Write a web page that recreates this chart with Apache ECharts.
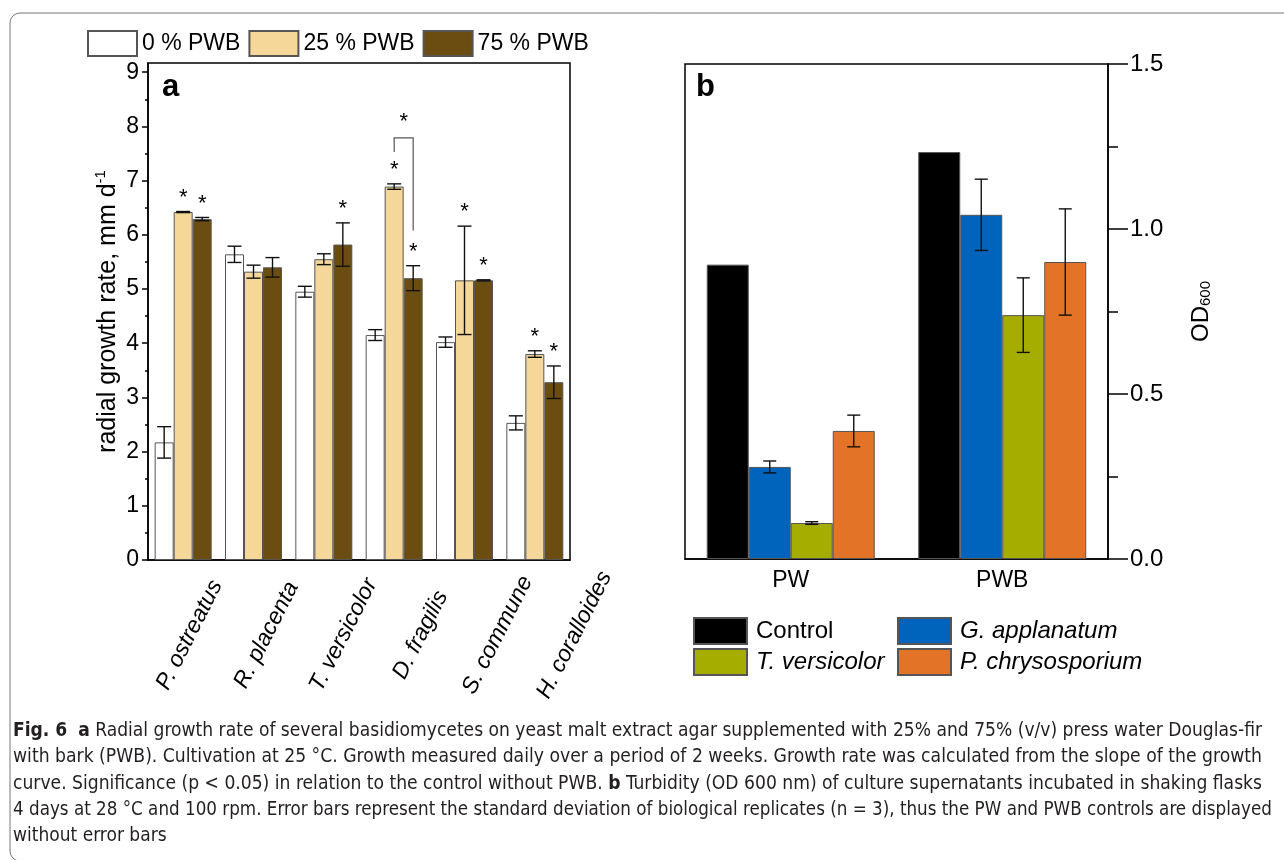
<!DOCTYPE html>
<html>
<head>
<meta charset="utf-8">
<script src="https://cdn.jsdelivr.net/npm/echarts@6/dist/echarts.min.js"></script>
<style>
html,body{margin:0;padding:0;background:#fff;}
#chart{width:1284px;height:860px;}
</style>
</head>
<body>
<div id="chart"></div>
<script>
// ---------- Panel a data ----------
const catsA = ['P. ostreatus', 'R. placenta', 'T. versicolor', 'D. fragilis', 'S. commune', 'H. coralloides'];
const seriesNamesA = ['0 % PWB', '25 % PWB', '75 % PWB'];
const meanA0  = [2.17, 5.64, 4.95, 4.15, 4.02, 2.53];
const sdA0    = [0.29, 0.15, 0.10, 0.10, 0.095, 0.13];
const meanA25 = [6.42, 5.32, 5.55, 6.89, 5.16, 3.80];
const sdA25   = [0.01, 0.12, 0.10, 0.05, 1.00, 0.06];
const meanA75 = [6.29, 5.40, 5.82, 5.20, 5.16, 3.28];
const sdA75   = [0.03, 0.18, 0.40, 0.23, 0.01, 0.30];
const sigA0   = [0, 0, 0, 0, 0, 0];
const sigA25  = [1, 0, 0, 1, 1, 1];
const sigA75  = [1, 0, 1, 1, 1, 1];
const yTicksA = [0, 1, 2, 3, 4, 5, 6, 7, 8, 9];
const yMinorA = [0.5, 1.5, 2.5, 3.5, 4.5, 5.5, 6.5, 7.5, 8.5];
// significance bracket (D. fragilis, 25 % vs 75 %): [category, left leg end, top, right leg end, star]
const bracketA = [3, 7.53, 7.79, 6.08, 8.17];

// ---------- Panel b data ----------
const catsB = ['PW', 'PWB'];
const seriesNamesB = ['Control', 'G. applanatum', 'T. versicolor', 'P. chrysosporium'];
const meanCtrl = [0.892, 1.233];
const meanGa   = [0.279, 1.043];
const sdGa     = [0.018, 0.108];
const meanTv   = [0.109, 0.739];
const sdTv     = [0.004, 0.113];
const meanPc   = [0.388, 0.900];
const sdPc     = [0.048, 0.161];

// ---------- Caption ----------
const captionLines = [
  [['Fig. 6', true], ['  ', false], ['a', true], [' Radial growth rate of several basidiomycetes on yeast malt extract agar supplemented with 25% and 75% (v/v) press water Douglas-fir', false]],
  [['with bark (PWB). Cultivation at 25 °C. Growth measured daily over a period of 2 weeks. Growth rate was calculated from the slope of the growth', false]],
  [['curve. Significance (p < 0.05) in relation to the control without PWB. ', false], ['b', true], [' Turbidity (OD 600 nm) of culture supernatants incubated in shaking flasks', false]],
  [['4 days at 28 °C and 100 rpm. Error bars represent the standard deviation of biological replicates (n = 3), thus the PW and PWB controls are displayed', false]],
  [['without error bars', false]]
];

const FONT = 'Liberation Sans, Arial, sans-serif';
const CAP_FONT = '"Liberation Sans Narrow", "DejaVu Sans Condensed", "Open Sans", sans-serif';
const BW_A = 19, BW_B = 42;
const colA = ['#ffffff', '#F4D799', '#6B4D12'];
const colB = ['#000000', '#0063BC', '#A5AD00', '#E37326'];

const chart = echarts.init(document.getElementById('chart'), null, {renderer: 'canvas'});

function errRender(offsetIdx, groupN, bw, capW) {
  return function (params, api) {
    const c = api.value(0), m = api.value(1), s = api.value(2);
    const x = api.coord([c, m])[0] + (offsetIdx - (groupN - 1) / 2) * bw;
    const yt = api.coord([c, m + s])[1];
    const yb = api.coord([c, m - s])[1];
    const st = {stroke: '#111', lineWidth: 1.4};
    return {type: 'group', children: [
      {type: 'line', shape: {x1: x, y1: yt, x2: x, y2: yb}, style: st},
      {type: 'line', shape: {x1: x - capW / 2, y1: yt, x2: x + capW / 2, y2: yt}, style: st},
      {type: 'line', shape: {x1: x - capW / 2, y1: yb, x2: x + capW / 2, y2: yb}, style: st}
    ]};
  };
}
function starRender(offsetIdx) {
  return function (params, api) {
    const c = api.value(0), top = api.value(1);
    const x = api.coord([c, top])[0] + (offsetIdx - 1) * BW_A;
    const y = api.coord([c, top])[1] - 14;
    return {type: 'text', x: x, y: y, style: {text: '*', fontSize: 22, fontFamily: FONT, fill: '#000', align: 'center', verticalAlign: 'middle'}};
  };
}

const meansA = [meanA0, meanA25, meanA75];
const sdsA = [sdA0, sdA25, sdA75];
const sigsA = [sigA0, sigA25, sigA75];

const series = [];
for (let k = 0; k < 3; k++) {
  series.push({
    name: seriesNamesA[k], type: 'bar', xAxisIndex: 0, yAxisIndex: 0,
    data: meansA[k], barWidth: BW_A, barGap: '0%',
    itemStyle: {color: colA[k], borderColor: '#555', borderWidth: 1}
  });
}
for (let k = 0; k < 3; k++) {
  series.push({
    type: 'custom', xAxisIndex: 0, yAxisIndex: 0, z: 10, silent: true,
    renderItem: errRender(k, 3, BW_A, 14),
    data: catsA.map((c, i) => [i, meansA[k][i], sdsA[k][i]])
  });
  const starData = [];
  catsA.forEach((c, i) => { if (sigsA[k][i]) starData.push([i, meansA[k][i] + sdsA[k][i]]); });
  if (starData.length) series.push({
    type: 'custom', xAxisIndex: 0, yAxisIndex: 0, z: 11, silent: true,
    renderItem: starRender(k), data: starData
  });
}
series.push({
  type: 'custom', xAxisIndex: 0, yAxisIndex: 0, z: 11, silent: true,
  data: [bracketA],
  renderItem: function (params, api) {
    const c = api.value(0);
    const cx = api.coord([c, 0])[0];
    const x1 = cx, x2 = cx + BW_A;
    const yl = api.coord([c, api.value(1)])[1];
    const yt = api.coord([c, api.value(2)])[1];
    const yr = api.coord([c, api.value(3)])[1];
    const ys = api.coord([c, api.value(4)])[1];
    return {type: 'group', children: [
      {type: 'polyline', shape: {points: [[x1, yl], [x1, yt], [x2, yt], [x2, yr]]}, style: {stroke: '#555', lineWidth: 1.2, fill: null}},
      {type: 'text', x: (x1 + x2) / 2, y: ys + 5, style: {text: '*', fontSize: 22, fontFamily: FONT, fill: '#000', align: 'center', verticalAlign: 'middle'}}
    ]};
  }
});
const meansB = [meanCtrl, meanGa, meanTv, meanPc];
const sdsB = [null, sdGa, sdTv, sdPc];
for (let k = 0; k < 4; k++) {
  series.push({
    name: seriesNamesB[k], type: 'bar', xAxisIndex: 1, yAxisIndex: 2,
    data: meansB[k], barWidth: BW_B, barGap: '0%',
    itemStyle: {color: colB[k], borderColor: '#555', borderWidth: 1}
  });
}
for (let k = 1; k < 4; k++) {
  series.push({
    type: 'custom', xAxisIndex: 1, yAxisIndex: 2, z: 10, silent: true,
    renderItem: errRender(k, 4, BW_B, 13),
    data: catsB.map((c, i) => [i, meansB[k][i], sdsB[k][i]])
  });
}

// caption graphics
const measureCtx = document.createElement('canvas').getContext('2d');
const CAP_SIZE = 20;
const capTargets = [1249, 1249, 1249, 1259];
const capY = [731, 757, 784, 810, 836];
function measureLine(segs) {
  let w = 0;
  segs.forEach(([t, b]) => {
    measureCtx.font = (b ? 'bold ' : '') + CAP_SIZE + 'px ' + CAP_FONT;
    w += measureCtx.measureText(t).width;
  });
  return w;
}
const graphics = [];
const avgScale = capTargets.reduce((s, t, i) => s + t / measureLine(captionLines[i]), 0) / capTargets.length;
captionLines.forEach((segs, li) => {
  let txt = '';
  segs.forEach(([t, b]) => { txt += b ? '{b|' + t + '}' : t; });
  const sx = li < capTargets.length ? capTargets[li] / measureLine(segs) : avgScale;
  graphics.push({
    type: 'text', x: 13, y: capY[li], scaleX: sx, silent: true,
    style: {text: txt, fontSize: CAP_SIZE, fontFamily: CAP_FONT, fill: '#231f20', verticalAlign: 'middle', align: 'left',
      rich: {b: {fontWeight: 'bold', fontSize: CAP_SIZE, fontFamily: CAP_FONT, fill: '#231f20'}}}
  });
});
graphics.push({type: 'rect', shape: {x: 10, y: 13, width: 1400, height: 848, r: 10}, style: {fill: null, stroke: '#777', lineWidth: 1}, silent: true, z: -1});
graphics.push({type: 'text', x: 162, y: 87, style: {text: 'a', fontSize: 31, fontWeight: 'bold', fontFamily: FONT, fill: '#000', verticalAlign: 'middle'}});
graphics.push({type: 'text', x: 696, y: 87, style: {text: 'b', fontSize: 31, fontWeight: 'bold', fontFamily: FONT, fill: '#000', verticalAlign: 'middle'}});

function legB(name, left, top, italic) {
  return {data: [name], left: left, top: top, padding: 0, orient: 'horizontal', icon: 'rect', itemWidth: 53, itemHeight: 26,
    textStyle: {color: '#000', fontSize: 24, fontFamily: FONT, fontStyle: italic ? 'italic' : 'normal', padding: [0, 0, 0, 4]}, selectedMode: false};
}

const option = {
  animation: false,
  backgroundColor: '#fff',
  textStyle: {fontFamily: FONT},
  grid: [
    {left: 148, top: 63, width: 422, height: 497, show: true, borderColor: '#000', borderWidth: 1.5, backgroundColor: 'transparent'},
    {left: 685, top: 64, width: 423, height: 495, show: true, borderColor: '#000', borderWidth: 1.5, backgroundColor: 'transparent'},
    // label band for panel a category names (spaced as in the original figure)
    {left: 151, top: 63, width: 462, height: 497, show: false}
  ],
  legend: [
    {data: seriesNamesA, left: 87, top: 30, padding: 0, icon: 'rect', itemWidth: 49, itemHeight: 25, itemGap: 8,
      textStyle: {color: '#000', fontSize: 23, fontFamily: FONT}, selectedMode: false},
    legB('Control', 693, 617, false),
    legB('T. versicolor', 693, 648, true),
    legB('G. applanatum', 897, 617, true),
    legB('P. chrysosporium', 897, 648, true)
  ],
  xAxis: [
    {type: 'category', gridIndex: 0, data: catsA,
      axisLine: {lineStyle: {color: '#000', width: 1.5}}, axisTick: {show: false}, axisLabel: {show: false}},
    {type: 'category', gridIndex: 1, data: catsB,
      axisLine: {lineStyle: {color: '#000', width: 1.5}}, axisTick: {show: false},
      axisLabel: {margin: 10, color: '#000', fontSize: 23, fontFamily: FONT}},
    {type: 'category', gridIndex: 2, data: catsA,
      axisLine: {show: false}, axisTick: {show: false},
      axisLabel: {interval: 0, rotate: 63, align: 'center', verticalAlign: 'middle', margin: 75,
        color: '#000', fontSize: 23, fontStyle: 'italic', fontFamily: FONT}}
  ],
  yAxis: [
    {type: 'value', gridIndex: 0, min: 0, max: 9.17, position: 'left',
      splitLine: {show: false},
      axisLine: {show: true, lineStyle: {color: '#000', width: 1.5}},
      axisTick: {show: true, length: 6, customValues: yTicksA, lineStyle: {color: '#000', width: 1.5}},
      axisLabel: {customValues: yTicksA, margin: 9, color: '#000', fontSize: 23, fontFamily: FONT},
      name: 'radial growth rate, mm d{sup|-1}', nameLocation: 'middle', nameGap: 25, nameRotate: 90, nameMoveOverlap: false,
      nameTextStyle: {color: '#000', fontSize: 25, fontFamily: FONT, rich: {sup: {fontSize: 15, fontFamily: FONT, color: '#000', verticalAlign: 'top', lineHeight: 30}}}},
    {type: 'value', gridIndex: 0, min: 0, max: 9.17, position: 'left',
      splitLine: {show: false}, axisLine: {show: false},
      axisTick: {show: true, length: 3, customValues: yMinorA, lineStyle: {color: '#000', width: 1.5}},
      axisLabel: {show: false}},
    {type: 'value', gridIndex: 1, min: 0, max: 1.5, interval: 0.5, position: 'right',
      splitLine: {show: false},
      axisLine: {show: true, lineStyle: {color: '#000', width: 1.5}},
      axisTick: {show: true, length: 20, lineStyle: {color: '#000', width: 1.5}},
      minorTick: {show: true, splitNumber: 2, length: 10, lineStyle: {color: '#000', width: 1.5}},
      axisLabel: {margin: 22, color: '#000', fontSize: 24, fontFamily: FONT, formatter: v => v.toFixed(1)},
      name: '{m|OD}{s|600}', nameLocation: 'middle', nameGap: 81, nameRotate: 90, nameMoveOverlap: false,
      nameTextStyle: {color: '#000', rich: {m: {fontSize: 24, fontFamily: FONT, color: '#000', verticalAlign: 'bottom'}, s: {fontSize: 15, fontFamily: FONT, color: '#000', verticalAlign: 'bottom'}}}},
    {type: 'value', gridIndex: 2, show: false, min: 0, max: 1}
  ],
  series: series,
  graphic: graphics
};
chart.setOption(option);
</script>
</body>
</html>
